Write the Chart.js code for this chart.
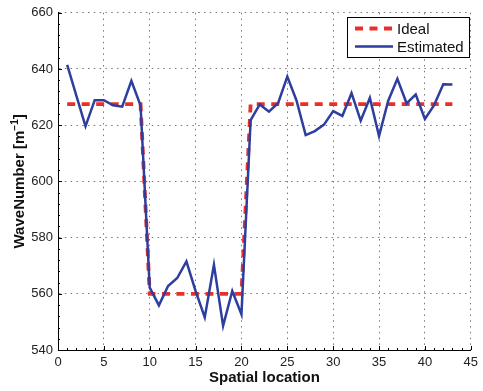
<!DOCTYPE html>
<html>
<head>
<meta charset="utf-8">
<script src="https://cdn.jsdelivr.net/npm/chart.js@4/dist/chart.umd.min.js"></script>
<style>
html,body{margin:0;padding:0;background:#fff;}
#wrap{width:483px;height:391px;}
</style>
</head>
<body>
<div id="wrap"><canvas id="c" width="483" height="391"></canvas></div>
<script>
// ---- data ----
const locations = [1,2,3,4,5,6,7,8,9,10,11,12,13,14,15,16,17,18,19,20,21,22,23,24,25,26,27,28,29,30,31,32,33,34,35,36,37,38,39,40,41,42,43];
const idealValues = [627.5,627.5,627.5,627.5,627.5,627.5,627.5,627.5,627.5,560,560,560,560,560,560,560,560,560,560,560,627.5,627.5,627.5,627.5,627.5,627.5,627.5,627.5,627.5,627.5,627.5,627.5,627.5,627.5,627.5,627.5,627.5,627.5,627.5,627.5,627.5,627.5,627.5];
const estimatedValues = [641.5,630.5,619.6,628.9,628.9,627.1,626.6,635.8,627.0,562.2,555.9,562.8,565.6,571.5,561.0,551.6,570.3,548.6,561.0,552.7,621.8,627.4,624.8,627.9,637.3,628.8,616.5,617.9,620.2,625.0,623.3,631.4,621.6,629.7,616.1,628.7,636.5,627.8,630.9,622.2,627.1,634.6,634.5];
const seriesNames = ['Ideal','Estimated'];
const xTicks = [0,5,10,15,20,25,30,35,40,45];
const yTicks = [540,560,580,600,620,640,660];
const xTitle = 'Spatial location';
const yTitleMain = 'WaveNumber [m';
const yTitleSup = '\u22121';
const yTitleEnd = ']';

const FONT = '"Liberation Sans", Arial, Helvetica, sans-serif';
const RED = '#e8302a';
const BLUE = '#2d3e9e';

const toPts = (xs, ys) => xs.map((x, i) => ({x: x, y: ys[i]}));

const extras = {
  id: 'extras',
  afterDraw(chart) {
    const ctx = chart.ctx;
    const xs = chart.scales.x, ys = chart.scales.y;
    const a = chart.chartArea;
    ctx.save();
    // inward ticks
    ctx.strokeStyle = '#000';
    ctx.lineWidth = 1;
    ctx.beginPath();
    for (let v = xs.min; v <= xs.max; v += 1) {
      const p = Math.round(xs.getPixelForValue(v)) + 0.5;
      const len = xTicks.includes(v) ? 4 : 2;
      ctx.moveTo(p, a.bottom);
      ctx.lineTo(p, a.bottom - len);
    }
    for (let v = ys.min; v <= ys.max; v += 4) {
      const p = Math.round(ys.getPixelForValue(v)) + 0.5;
      const len = yTicks.includes(v) ? 4 : 2;
      ctx.moveTo(a.left, p);
      ctx.lineTo(a.left + len, p);
    }
    ctx.stroke();

    // y axis title with superscript
    ctx.fillStyle = '#111';
    ctx.textBaseline = 'alphabetic';
    const fMain = 'bold 15px ' + FONT;
    const fSup = 'bold 10px ' + FONT;
    ctx.font = fMain;
    const w1 = ctx.measureText(yTitleMain).width;
    const w3 = ctx.measureText(yTitleEnd).width;
    ctx.font = fSup;
    const w2 = ctx.measureText(yTitleSup).width;
    const total = w1 + w2 + w3;
    ctx.translate(24, (a.top + a.bottom) / 2);
    ctx.rotate(-Math.PI / 2);
    let x0 = -total / 2;
    ctx.font = fMain;
    ctx.textAlign = 'left';
    ctx.fillText(yTitleMain, x0, 0);
    ctx.font = fSup;
    ctx.fillText(yTitleSup, x0 + w1, -6);
    ctx.font = fMain;
    ctx.fillText(yTitleEnd, x0 + w1 + w2, 0);
    ctx.setTransform(1, 0, 0, 1, 0, 0);

    // x axis title
    ctx.font = 'bold 15px ' + FONT;
    ctx.textAlign = 'center';
    ctx.textBaseline = 'middle';
    ctx.fillText(xTitle, (a.left + a.right) / 2, 378);

    // legend
    const lx = 347, ly = 17, lw = 122, lh = 40;
    ctx.fillStyle = '#fff';
    ctx.fillRect(lx, ly, lw, lh);
    ctx.strokeStyle = '#000';
    ctx.lineWidth = 1;
    ctx.strokeRect(lx + 0.5, ly + 0.5, lw, lh);
    const ds = chart.data.datasets;
    const rows = [28.5, 46.5];
    ds.forEach((d, i) => {
      ctx.save();
      ctx.strokeStyle = d.borderColor;
      ctx.lineWidth = d.borderWidth;
      ctx.setLineDash(d.borderDash || []);
      ctx.beginPath();
      ctx.moveTo(355, rows[i]);
      ctx.lineTo(393, rows[i]);
      ctx.stroke();
      ctx.restore();
      ctx.fillStyle = '#111';
      ctx.font = '15px ' + FONT;
      ctx.textAlign = 'left';
      ctx.textBaseline = 'middle';
      ctx.fillText(d.label, 397, rows[i] + 1);
    });
    ctx.restore();
  }
};

new Chart(document.getElementById('c'), {
  type: 'line',
  data: {
    datasets: [
      {label: seriesNames[0], data: toPts(locations, idealValues), borderColor: RED, borderWidth: 3.8,
       borderDash: [8, 6.5], pointRadius: 0, tension: 0, fill: false, order: 2, borderCapStyle: 'butt'},
      {label: seriesNames[1], data: toPts(locations, estimatedValues), borderColor: BLUE, borderWidth: 2.5,
       pointRadius: 0, tension: 0, fill: false, order: 1, borderJoinStyle: 'miter'}
    ]
  },
  plugins: [extras],
  options: {
    responsive: false,
    animation: false,
    devicePixelRatio: 1,
    layout: {padding: {left: 0, top: 11, right: 8, bottom: 0}},
    plugins: {legend: {display: false}, tooltip: {enabled: false}},
    scales: {
      x: {
        type: 'linear', min: 0, max: 45,
        afterBuildTicks: (s) => { s.ticks = xTicks.map(v => ({value: v})); },
        afterFit: (s) => { s.height = 41; },
        ticks: {padding: 5, color: '#222', font: {family: FONT, size: 13}, maxRotation: 0, autoSkip: false},
        grid: {color: '#777', lineWidth: 1, drawTicks: false},
        border: {display: true, color: '#000', width: 1, dash: [1.5, 4.3]}
      },
      y: {
        type: 'linear', min: 540, max: 660,
        afterBuildTicks: (s) => { s.ticks = yTicks.map(v => ({value: v})); },
        afterFit: (s) => { s.width = 58; },
        ticks: {padding: 5, color: '#222', font: {family: FONT, size: 13}, autoSkip: false},
        grid: {color: '#777', lineWidth: 1, drawTicks: false},
        border: {display: true, color: '#000', width: 1, dash: [1.5, 4.3]}
      }
    }
  }
});
</script>
</body>
</html>
